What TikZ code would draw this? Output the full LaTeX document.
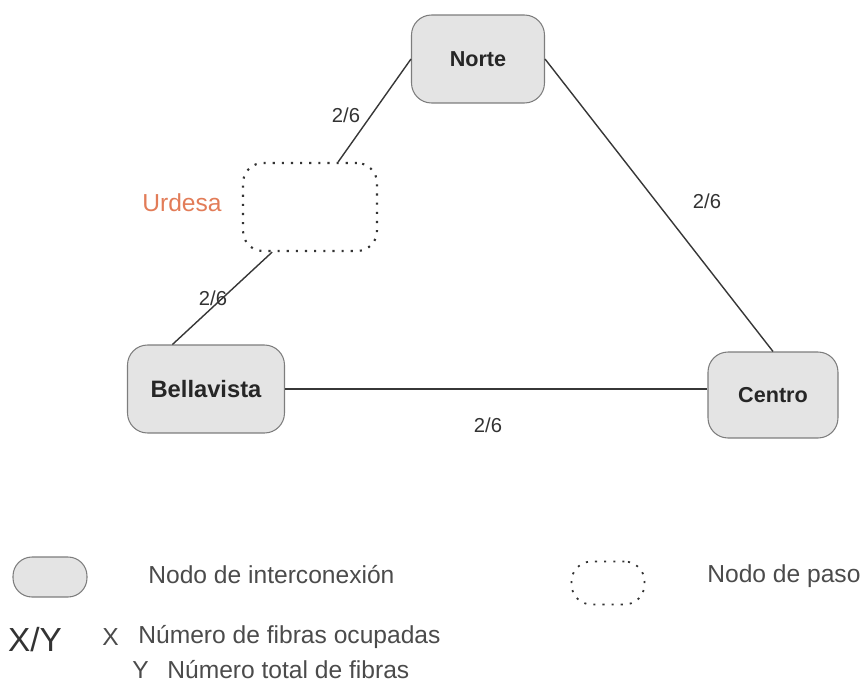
\documentclass[tikz,border=0pt]{standalone}
\usepackage{fontspec}
\setmainfont{Liberation Sans}
\usetikzlibrary{positioning}
\usepackage{xcolor}
\definecolor{sitefill}{RGB}{228,228,228}
\definecolor{siteline}{RGB}{125,125,125}
\definecolor{linkgray}{RGB}{55,55,55}
\definecolor{urdesaorange}{RGB}{226,124,88}
\definecolor{legendtext}{RGB}{75,75,75}

\begin{document}
\begin{tikzpicture}[x=0.02cm, y=-0.02cm,
  site/.style={rectangle, rounded corners=0.4cm, draw=siteline, line width=0.6pt, fill=sitefill, minimum height=1.76cm, minimum width=#1, font=\bfseries\fontsize{12.3}{14}\selectfont, text=black!85},
  site/.default=2.6cm,
  passnode/.style={rectangle, rounded corners=0.4cm, draw=black!80, line width=1.2pt, dash pattern=on 1.2pt off 4pt, minimum height=1.76cm, minimum width=#1},
  passnode/.default=2.68cm,
  link/.style={draw=linkgray, line width=0.8pt},
  fibre/.style={font=\fontsize{11.5}{13}\selectfont, text=black!80, inner sep=0pt},
  legend/.style={font=\fontsize{14}{16}\selectfont, text=legendtext, inner sep=0pt, anchor=west}]
  \useasboundingbox (0,0) rectangle (860,687);
  % sites
  \node[site=2.66cm] (norte) at (478,59) {Norte};
  \node[passnode] (urdesa) at (310,207) {};
  \node[site=3.14cm, font=\bfseries\fontsize{13.5}{15}\selectfont] (bella) at (206,389) {Bellavista};
  \node[site=2.6cm, minimum height=1.72cm] (centro) at (773,395) {Centro};
  \node[font=\fontsize{14}{16}\selectfont, text=urdesaorange, inner sep=0pt] (urdesalbl) at (182,203) {Urdesa};
  % links
  \draw[link] (norte.west) -- (urdesa.58);
  \draw[link] (urdesa.230) -- (bella.127);
  \draw[link] (norte.east) -- (centro.north);
  \draw[link] (bella.east) -- (bella.east -| centro.west);
  \node[fibre] (f1) at (346,115) {2/6};
  \node[fibre] (f2) at (213,298) {2/6};
  \node[fibre] (f3) at (707,201) {2/6};
  \node[fibre] (f4) at (488,425) {2/6};
  % legend
  \node[rectangle, rounded corners=0.38cm, draw=siteline, line width=0.6pt, fill=sitefill, minimum width=1.48cm, minimum height=0.8cm] (legsite) at (50,577) {};
  \node[legend] (legsitetxt) at (148,575) {Nodo de interconexión};
  \node[passnode=1.46cm, minimum height=0.86cm, rounded corners=0.4cm, line width=1pt] (legpass) at (608,583) {};
  \node[legend] (legpasstxt) at (707,576) {Nodo de paso};
  \node[font=\fontsize{19}{21}\selectfont, text=black!80, inner sep=0pt] (xy) at (35,640) {X/Y};
  \node[legend] (legx) at (102,637) {X};
  \node[legend] (legxtxt) at (138,637) {Número de fibras ocupadas};
  \node[legend] (legy) at (132,670) {Y};
  \node[legend] (legytxt) at (167,670) {Número total de fibras};
\end{tikzpicture}
\end{document}
